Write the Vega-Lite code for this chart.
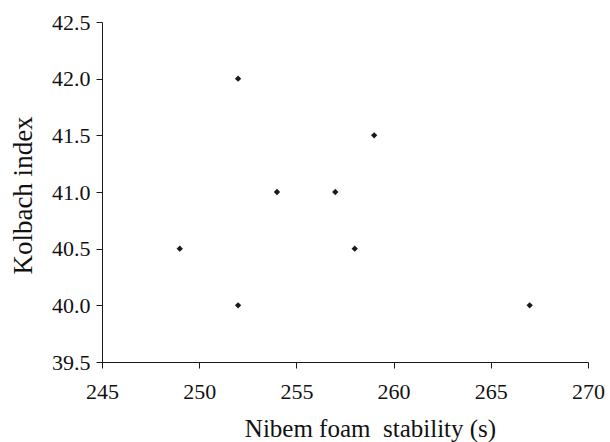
{
  "$schema": "https://vega.github.io/schema/vega-lite/v6.json",
  "width": 486,
  "height": 340,
  "autosize": {"type": "none"},
  "padding": {"left": 102, "top": 22, "right": 22, "bottom": 80},
  "background": "white",
  "config": {
    "view": {"stroke": null},
    "font": "Liberation Serif",
    "axis": {
      "grid": false,
      "domainColor": "#1a1a1a",
      "tickColor": "#1a1a1a",
      "labelColor": "#111111",
      "titleColor": "#111111",
      "labelFont": "Liberation Serif",
      "titleFont": "Liberation Serif",
      "labelFontSize": 22,
      "titleFontSize": 25,
      "titleFontWeight": "normal",
      "tickSize": 6,
      "domainWidth": 1,
      "tickWidth": 1
    }
  },
  "data": {
    "values": [
      {"foam": 249, "kolbach": 40.5},
      {"foam": 252, "kolbach": 42.0},
      {"foam": 252, "kolbach": 40.0},
      {"foam": 254, "kolbach": 41.0},
      {"foam": 257, "kolbach": 41.0},
      {"foam": 258, "kolbach": 40.5},
      {"foam": 259, "kolbach": 41.5},
      {"foam": 267, "kolbach": 40.0}
    ]
  },
  "mark": {"type": "point", "shape": "diamond", "filled": true, "color": "#1a1a1a", "size": 40, "opacity": 1},
  "encoding": {
    "x": {
      "field": "foam",
      "type": "quantitative",
      "scale": {"domain": [245, 270], "nice": false, "zero": false},
      "axis": {"values": [245, 250, 255, 260, 265, 270], "format": "d", "labelPadding": 13, "title": "Nibem foam\u00a0 stability (s)", "titleAlign": "center", "titleBaseline": "alphabetic", "titleX": 268, "titleY": 74, "labelFlush": false, "labelOverlap": false}
    },
    "y": {
      "field": "kolbach",
      "type": "quantitative",
      "scale": {"domain": [39.5, 42.5], "nice": false, "zero": false},
      "axis": {"values": [39.5, 40.0, 40.5, 41.0, 41.5, 42.0, 42.5], "format": ".1f", "labelPadding": 6, "title": "Kolbach index", "titleFontSize": 27, "titleAlign": "center", "titleBaseline": "alphabetic", "titleAngle": -90, "titleX": -71, "titleY": 173, "labelFlush": false, "labelOverlap": false}
    }
  }
}
